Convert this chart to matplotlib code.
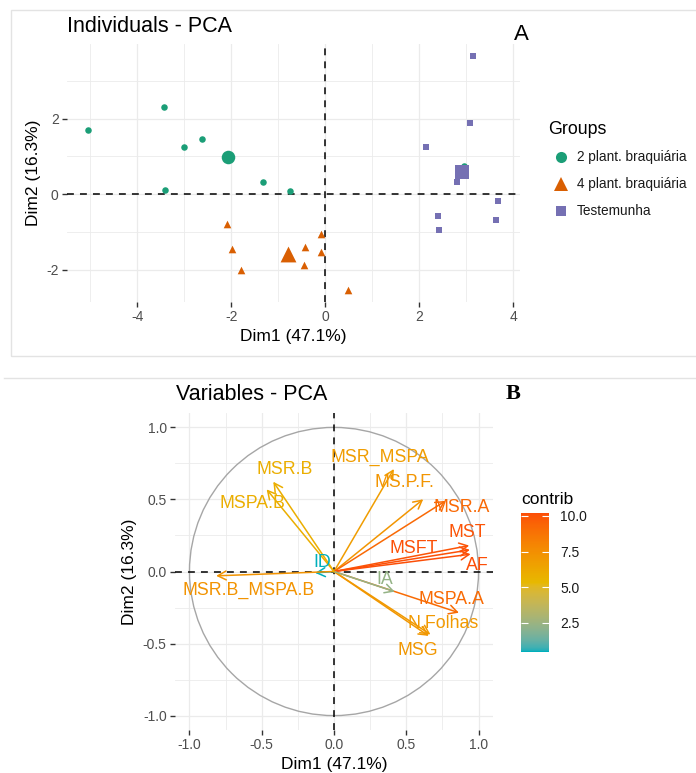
import numpy as np
import matplotlib
matplotlib.use('Agg')
import matplotlib.pyplot as plt
from matplotlib.colors import ListedColormap, Normalize, to_rgb
from matplotlib.lines import Line2D
from matplotlib.patches import Rectangle, Circle

plt.rcParams['font.family'] = ['Liberation Sans', 'DejaVu Sans']
plt.rcParams['axes.unicode_minus'] = False

# ---- individuals (Dim1, Dim2) ----
groups = ['2 plant. braquiária', '4 plant. braquiária', 'Testemunha']
group_colors = ['#1B9E77', '#D95F02', '#7570B3']
group_markers = ['o', '^', 's']

g1_dim1 = [-5.06, -3.44, -3.01, -2.62, -3.41, -1.33, -0.76, 2.95]
g1_dim2 = [1.69, 2.31, 1.25, 1.46, 0.12, 0.31, 0.08, 0.74]
g2_dim1 = [-2.10, -1.99, -1.80, -0.43, -0.45, -0.09, -0.09, 0.48]
g2_dim2 = [-0.78, -1.45, -2.01, -1.40, -1.88, -1.06, -1.52, -2.53]
g3_dim1 = [3.14, 3.08, 2.13, 2.80, 3.67, 2.40, 3.62, 2.41]
g3_dim2 = [3.66, 1.89, 1.25, 0.31, -0.19, -0.58, -0.69, -0.94]

# group means (large markers)
mean_dim1 = [-2.08, -0.80, 2.91]
mean_dim2 = [0.99, -1.57, 0.59]

# ---- variables ----
var_names = ['MSR_MSPA', 'MS.P.F.', 'MSR.A', 'MST', 'MSFT', 'AF', 'MSPA.A',
             'N.Folhas', 'MSG', 'IA', 'ID', 'MSR.B_MSPA.B', 'MSR.B', 'MSPA.B']
var_dim1 = [0.414, 0.617, 0.771, 0.935, 0.940, 0.945, 0.864,
            0.667, 0.655, 0.420, -0.130, -0.815, -0.420, -0.466]
var_dim2 = [0.711, 0.501, 0.490, 0.180, 0.150, 0.120, -0.286,
            -0.437, -0.447, -0.140, -0.010, -0.030, 0.623, 0.570]
var_contrib = [6.8, 7.2, 9.2, 10.0, 10.1, 10.2, 9.1,
               7.0, 7.1, 2.3, 0.46, 7.3, 5.9, 5.9]
# label positions as they appear (repelled)
lab_dim1 = [0.32, 0.49, 0.88, 0.925, 0.55, 0.99, 0.815,
            0.753, 0.58, 0.35, -0.078, -0.592, -0.338, -0.566]
lab_dim2 = [0.79, 0.615, 0.443, 0.272, 0.162, 0.04, -0.194,
            -0.363, -0.545, -0.055, 0.06, -0.133, 0.71, 0.472]

gradient_cols = ['#00AFBB', '#E7B800', '#FC4E07']


# colour ramp interpolated in CIELAB, like ggplot's gradientn
def rgb_to_lab(rgb):
    c = np.array(rgb, dtype=float)
    c = np.where(c > 0.04045, ((c + 0.055) / 1.055) ** 2.4, c / 12.92)
    M = np.array([[0.4124, 0.3576, 0.1805],
                  [0.2126, 0.7152, 0.0722],
                  [0.0193, 0.1192, 0.9505]])
    xyz = M @ c / np.array([0.95047, 1.0, 1.08883])
    f = np.where(xyz > 0.008856, np.cbrt(xyz), 7.787 * xyz + 16 / 116)
    return np.array([116 * f[1] - 16, 500 * (f[0] - f[1]), 200 * (f[1] - f[2])])


def lab_to_rgb(lab):
    fy_ = (lab[0] + 16) / 116
    f = np.array([fy_ + lab[1] / 500, fy_, fy_ - lab[2] / 200])
    xyz = np.where(f ** 3 > 0.008856, f ** 3, (f - 16 / 116) / 7.787)
    xyz = xyz * np.array([0.95047, 1.0, 1.08883])
    Minv = np.array([[3.2406, -1.5372, -0.4986],
                     [-0.9689, 1.8758, 0.0415],
                     [0.0557, -0.2040, 1.0570]])
    c = Minv @ xyz
    c = np.where(c > 0.0031308, 1.055 * np.clip(c, 0, None) ** (1 / 2.4) - 0.055, 12.92 * c)
    return np.clip(c, 0, 1)


labs = [rgb_to_lab(to_rgb(c)) for c in gradient_cols]
ramp = []
for t in np.linspace(0, 1, 256):
    seg = min(int(t * 2), 1)
    u = t * 2 - seg
    ramp.append(lab_to_rgb(labs[seg] * (1 - u) + labs[seg + 1] * u))
cmap = ListedColormap(ramp)
norm = Normalize(vmin=min(var_contrib), vmax=max(var_contrib))

W, H = 696, 773
fig = plt.figure(figsize=(W / 100, H / 100), dpi=100)


def fx(px):
    return px / W


def fy(py):
    return 1 - py / H


# panel frames
fig.patches.append(Rectangle((fx(11), fy(356)), fx(700 - 11), fy(10) - fy(356),
                             transform=fig.transFigure, fill=False,
                             edgecolor='#E3E3E3', lw=1.0))
fig.lines.append(Line2D([fx(4), 1], [fy(378), fy(378)], transform=fig.transFigure,
                        color='#E3E3E3', lw=1.0))

tick_col = '#4D4D4D'
grid_col = '#EBEBEB'


def style_axes(ax):
    for s in ax.spines.values():
        s.set_visible(False)
    ax.grid(True, which='major', color=grid_col, lw=0.9)
    ax.grid(True, which='minor', color=grid_col, lw=0.6)
    ax.set_axisbelow(True)
    ax.tick_params(which='major', length=3.5, width=1.0, color='#333333',
                   labelcolor=tick_col, labelsize=10, pad=2.5)
    ax.tick_params(which='minor', length=0)


# ---------------- Panel A ----------------
ax1 = fig.add_axes([fx(67), fy(302), fx(520 - 67), fy(44) - fy(302)])
style_axes(ax1)
ax1.set_xlim(-5.5, 4.14)
ax1.set_ylim(-2.85, 3.97)
ax1.set_xticks([-4, -2, 0, 2, 4])
ax1.set_xticks([-5, -3, -1, 1, 3], minor=True)
ax1.set_yticks([-2, 0, 2])
ax1.set_yticks([-1, 1, 3], minor=True)
ax1.axhline(0, color='black', ls=(0, (4.5, 4)), lw=1.1, zorder=1)
ax1.axvline(0, color='black', ls=(0, (4.5, 4)), lw=1.1, zorder=1)

gx = [g1_dim1, g2_dim1, g3_dim1]
gy = [g1_dim2, g2_dim2, g3_dim2]
small_sizes = [22, 30, 22]
big_sizes = [95, 130, 95]
for i in range(3):
    ax1.scatter(gx[i], gy[i], s=small_sizes[i], marker=group_markers[i],
                color=group_colors[i], linewidths=0, zorder=3)
    ax1.scatter([mean_dim1[i]], [mean_dim2[i]], s=big_sizes[i], marker=group_markers[i],
                color=group_colors[i], linewidths=0, zorder=3)

ax1.set_xlabel('Dim1 (47.1%)', fontsize=12.5, labelpad=3)
ax1.set_ylabel('Dim2 (16.3%)', fontsize=12.5, labelpad=4)
fig.text(fx(67), fy(27), 'Individuals - PCA', fontsize=15.5, ha='left', va='center')
fig.text(fx(521), fy(35), 'A', fontsize=16, ha='center', va='center')

# legend (manual)
fig.text(fx(548), fy(130), 'Groups', fontsize=12.8, ha='left', va='center')
leg_y = [157, 184, 211]
leg_ms = [8, 9.5, 7]
for i in range(3):
    fig.lines.append(Line2D([fx(561)], [fy(leg_y[i])], transform=fig.transFigure,
                            marker=group_markers[i], color=group_colors[i],
                            markersize=leg_ms[i], markeredgewidth=0, ls='none'))
    fig.text(fx(577), fy(leg_y[i]), groups[i], fontsize=9.8, ha='left',
             va='center', color='#1A1A1A')

# ---------------- Panel B ----------------
ax2 = fig.add_axes([fx(175), fy(730), fx(493 - 175), fy(413) - fy(730)])
style_axes(ax2)
ax2.set_xlim(-1.1, 1.1)
ax2.set_ylim(-1.1, 1.1)
ax2.set_xticks([-1.0, -0.5, 0.0, 0.5, 1.0])
ax2.set_xticks([-0.75, -0.25, 0.25, 0.75], minor=True)
ax2.set_yticks([-1.0, -0.5, 0.0, 0.5, 1.0])
ax2.set_yticks([-0.75, -0.25, 0.25, 0.75], minor=True)
ax2.set_xticklabels(['-1.0', '-0.5', '0.0', '0.5', '1.0'])
ax2.set_yticklabels(['-1.0', '-0.5', '0.0', '0.5', '1.0'])
ax2.add_patch(Circle((0, 0), 1.0, fill=False, edgecolor='#A6A6A6', lw=1.0, zorder=1))
ax2.axhline(0, color='black', ls=(0, (4.5, 4)), lw=1.1, zorder=1)
ax2.axvline(0, color='black', ls=(0, (4.5, 4)), lw=1.1, zorder=1)

for i, name in enumerate(var_names):
    c = cmap(norm(var_contrib[i]))
    ax2.annotate('', xy=(var_dim1[i], var_dim2[i]), xytext=(0, 0),
                 arrowprops=dict(arrowstyle='->,head_length=0.6,head_width=0.32',
                                 color=c, lw=1.1, shrinkA=0, shrinkB=0), zorder=3)
    ax2.text(lab_dim1[i], lab_dim2[i], name, color=c, fontsize=12.8,
             ha='center', va='center', zorder=4)

ax2.set_xlabel('Dim1 (47.1%)', fontsize=12.5, labelpad=3)
ax2.set_ylabel('Dim2 (16.3%)', fontsize=12.5, labelpad=4)
fig.text(fx(176), fy(395), 'Variables - PCA', fontsize=15.5, ha='left', va='center')
fig.text(fx(513), fy(394), 'B', fontsize=16, ha='center', va='center',
         family=['Liberation Serif', 'DejaVu Serif'], weight='bold')

# colorbar
cax = fig.add_axes([fx(521), fy(652), fx(549 - 521), fy(513) - fy(652)])
sm = plt.cm.ScalarMappable(cmap=cmap, norm=norm)
cb = fig.colorbar(sm, cax=cax, ticks=[2.5, 5.0, 7.5, 10.0])
cb.outline.set_visible(False)
cb.set_ticklabels(['2.5', '5.0', '7.5', '10.0'])
cax.tick_params(axis='y', direction='in', color='white', length=5, width=0.8,
                left=True, right=True, labelsize=10, labelcolor='#1A1A1A', pad=8)
fig.text(fx(521), fy(500), 'contrib', fontsize=12.5, ha='left', va='center')

fig.savefig('out.png', dpi=100)
